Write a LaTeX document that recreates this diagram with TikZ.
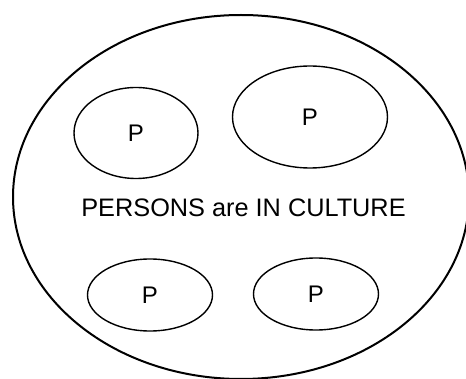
\documentclass[tikz,border=0pt]{standalone}
\usepackage{fontspec}
\setmainfont{Liberation Sans}
\usetikzlibrary{shapes.geometric}
\tikzset{
  culturebox/.style={draw, ellipse, line width=2pt, inner sep=0pt,
                     minimum width=#1},
  personbox/.style ={draw, ellipse, line width=1.4pt, inner sep=0pt,
                     font=\fontsize{24}{28}\selectfont},
  labeltext/.style ={font=\fontsize{25.3}{30}\selectfont, inner sep=0pt},
}

\begin{document}
\begin{tikzpicture}[x=1pt,y=-1pt]
  \useasboundingbox (0,0) rectangle (466,379);
  \node[culturebox=456pt, minimum height=364pt] (culture) at (241,197) {};
  \node[personbox, minimum width=124pt, minimum height=91pt]  (ptl) at (136,133) {P};
  \node[personbox, minimum width=155pt, minimum height=102pt] (ptr) at (310,117) {P};
  \node[personbox, minimum width=125pt, minimum height=72pt]  (pbl) at (150,295) {P};
  \node[personbox, minimum width=125pt, minimum height=72pt]  (pbr) at (316,294) {P};
  \node[labeltext] (title) at (243.5,208) {PERSONS are IN CULTURE};
\end{tikzpicture}
\end{document}
